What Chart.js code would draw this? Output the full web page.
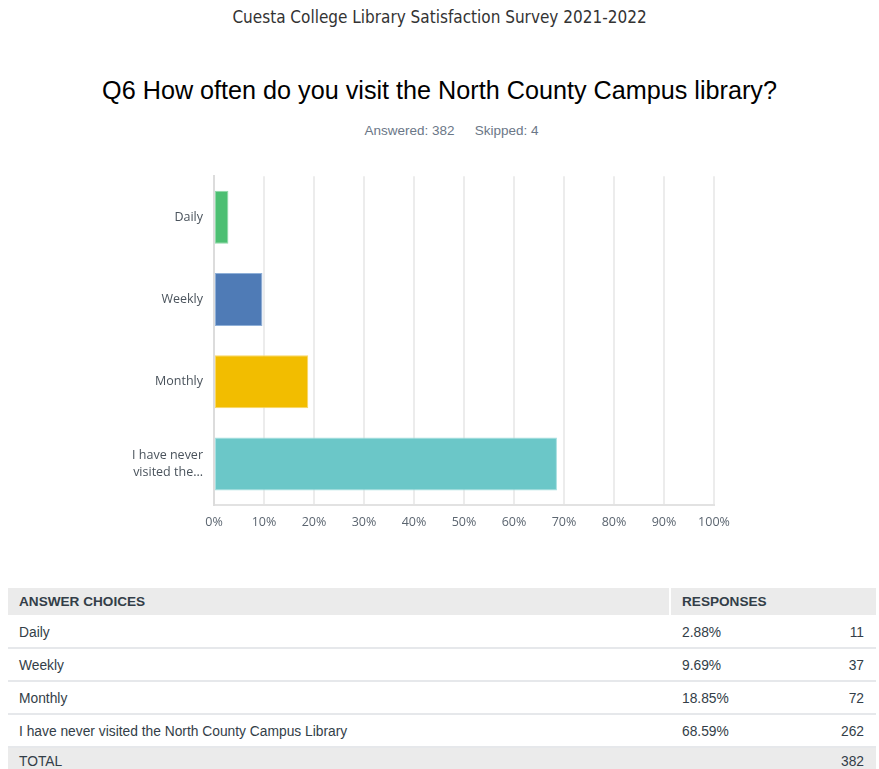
<!DOCTYPE html>
<html lang="en">
<head>
    <meta charset="UTF-8">
    <title>Q6 North County Campus library</title>
    <script src="https://cdn.jsdelivr.net/npm/chart.js"></script>
    <style>
        body { margin: 0; width: 879px; height: 769px; background: #fff; position: relative; overflow: hidden; font-family: "Liberation Sans", Arial, sans-serif; }
        .survey { position: absolute; top: 7px; left: 0; width: 879px; text-align: center; font-family: "DejaVu Sans Condensed", "DejaVu Sans", sans-serif; font-size: 17px; color: #333; }
        .question { position: absolute; top: 76px; left: 0; width: 879px; text-align: center; font-size: 25.2px; color: #000; }
        .stats { position: absolute; top: 123px; left: 24px; width: 855px; text-align: center; font-size: 13.5px; color: #6b7787; }
        .stats span + span { margin-left: 20px; }
        #chartBox { position: absolute; left: 120px; top: 149px; width: 620px; height: 401px; }
        table { position: absolute; left: 8px; top: 588px; width: 868px; border-collapse: collapse; table-layout: fixed; font-size: 13.8px; color: #333e48; }
        th { background: #ebebeb; text-align: left; font-weight: bold; font-size: 13.6px; height: 27px; padding: 0 12px 0 11px; }
        th.resp { border-left: 2px solid #fff; }
        td { height: 33px; padding: 2px 12px 0 11px; box-sizing: border-box; border-bottom: 2px solid #e6e8eb; white-space: nowrap; }
        td.num { text-align: right; }
        td.pct { border-left: 2px solid #fff; }
        tr.total td { background: #ebebeb; border-bottom: none; border-left: none; height: 27px; padding-top: 0; }
    </style>
</head>
<body>
    <div class="survey">Cuesta College Library Satisfaction Survey 2021-2022</div>
    <div class="question">Q6 How often do you visit the North County Campus library?</div>
    <div class="stats"><span>Answered: 382</span><span>Skipped: 4</span></div>

    <div id="chartBox"><canvas id="myChart"></canvas></div>

    <table id="answers">
        <colgroup><col style="width:662px"><col style="width:140px"><col style="width:66px"></colgroup>
        <thead>
            <tr><th>ANSWER CHOICES</th><th class="resp" colspan="2">RESPONSES</th></tr>
        </thead>
        <tbody></tbody>
    </table>

    <script>
        // answer choices (short labels on the chart, full text in the table)
        var axisLabels = ['Daily', 'Weekly', 'Monthly', ['I have never', 'visited the...']];
        var choices = ['Daily', 'Weekly', 'Monthly', 'I have never visited the North County Campus Library'];
        var percents = [2.88, 9.69, 18.85, 68.59];
        var counts = [11, 37, 72, 262];
        var total = 382;
        var barColors = ['#4cbf72', '#4f7bb6', '#f2bd00', '#6bc7c8'];
        var barEdges = ['#8fd9a8', '#8fb0d8', '#f8d766', '#a6dfe0'];

        // fill the table
        var tbody = document.querySelector('#answers tbody');
        choices.forEach(function (c, i) {
            var tr = document.createElement('tr');
            tr.innerHTML = '<td>' + c + '</td><td class="pct">' + percents[i].toFixed(2) + '%</td><td class="num">' + counts[i] + '</td>';
            tbody.appendChild(tr);
        });
        var tot = document.createElement('tr');
        tot.className = 'total';
        tot.innerHTML = '<td>TOTAL</td><td class="pct"></td><td class="num">' + total + '</td>';
        tbody.appendChild(tot);

        var ctx = document.getElementById('myChart').getContext('2d');
        var myChart = new Chart(ctx, {
            type: 'bar',
            data: {
                labels: axisLabels,
                datasets: [{
                    data: percents,
                    backgroundColor: barColors,
                    borderColor: barEdges,
                    borderWidth: 1,
                    borderSkipped: false,
                    categoryPercentage: 1,
                    barPercentage: 0.645
                }]
            },
            options: {
                indexAxis: 'y',
                responsive: true,
                maintainAspectRatio: false,
                animation: false,
                layout: { padding: { top: 5, right: 26, bottom: 0, left: 0 } },
                plugins: {
                    legend: { display: false },
                    tooltip: { enabled: false }
                },
                scales: {
                    x: {
                        min: 0,
                        max: 100,
                        afterFit: function (scale) { scale.height = 45; },
                        grid: { color: '#ececec', lineWidth: 2, drawTicks: false },
                        border: { color: '#e2e2e2', width: 2 },
                        ticks: {
                            stepSize: 10,
                            padding: 10,
                            color: '#5b6570',
                            font: { family: 'Open Sans', size: 12.5 },
                            callback: function (v) { return v + '%'; }
                        }
                    },
                    y: {
                        afterFit: function (scale) { scale.width = 94; },
                        grid: { display: false, drawTicks: false },
                        border: { color: '#dcdcdc', width: 2 },
                        ticks: {
                            padding: 11,
                            color: '#4a535c',
                            font: { family: 'Open Sans', size: 12.5, lineHeight: 1.3 }
                        }
                    }
                }
            }
        });
    </script>
</body>
</html>
